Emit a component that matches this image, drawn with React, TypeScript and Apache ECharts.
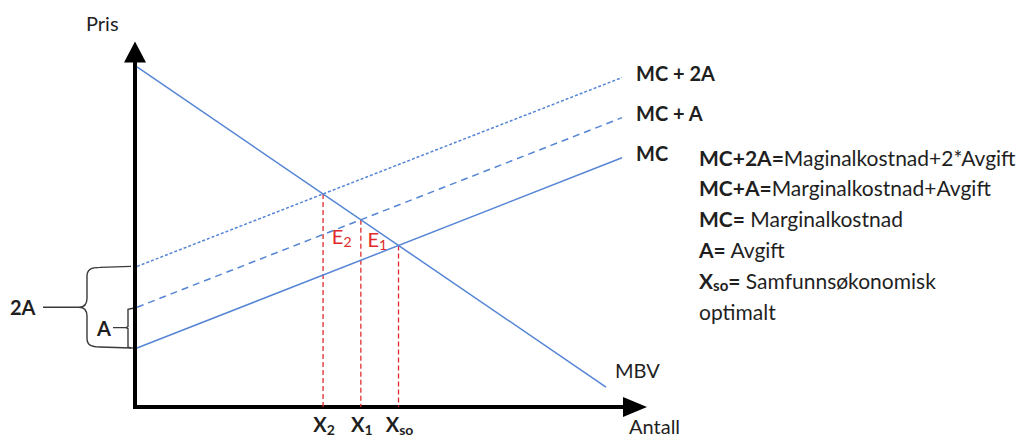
import React, { useEffect, useRef } from 'react';
import * as echarts from 'echarts';

const FONT = 'Lato, "Noto Sans", sans-serif';
const BLUE = '#5585D5';
const RED = '#E0282A';
const INK = '#1f1f1f';

// Data space: Antall 0..100 (x), Pris 0..100 (y)
const axisMin = 0;
const axisMax = 100;
const mbvX = [0.4, 94.2];
const mbvY = [95.8, 5.6];
const mcX = [0.4, 97.4];
const mcY = [16.6, 70.2];
const mcAY = [28.1, 81.5];
const mc2AY = [39.6, 92.8];

const curveNames = ['MC + 2A', 'MC + A', 'MC'];
const demandName = 'MBV';
const axisNames = ['Antall', 'Pris'];
const quantitySubs = ['2', '1', 'so']; // X2 (MC+2A), X1 (MC+A), Xso (MC)
const equilibriumSubs = ['2', '1'];
const braceLabels = ['2A', 'A'];
const legendLines = [
  '{lb|MC+2A=}{lr|Maginalkostnad+2*Avgift}',
  '{lb|MC+A=}{lr|Marginalkostnad+Avgift}',
  '{lb|MC=}{lr| Marginalkostnad}',
  '{lb|A=}{lr| Avgift}',
  '{lb|X}{ls|so}{lb|=}{lr| Samfunnsøkonomisk}',
  '{lr|optimalt}',
];

function intersect(p1: number[], p2: number[], q1: number[], q2: number[]) {
  const [x1, y1] = p1, [x2, y2] = p2, [x3, y3] = q1, [x4, y4] = q2;
  const d = (x1 - x2) * (y3 - y4) - (y1 - y2) * (x3 - x4);
  const t = ((x1 - x3) * (y3 - y4) - (y1 - y3) * (x3 - x4)) / d;
  return [x1 + t * (x2 - x1), y1 + t * (y2 - y1)];
}

const rich = {
  b: { fontFamily: FONT, fontSize: 20, fontWeight: 'bold', fill: INK, lineHeight: 24 },
  r: { fontFamily: FONT, fontSize: 20, fill: INK, lineHeight: 24 },
  bs: { fontFamily: FONT, fontSize: 14, fontWeight: 'bold', fill: INK, padding: [10, 0, 0, 0] },
  e: { fontFamily: FONT, fontSize: 20, fill: RED, lineHeight: 24 },
  es: { fontFamily: FONT, fontSize: 14, fill: RED, padding: [10, 0, 0, 0] },
  lb: { fontFamily: FONT, fontSize: 21, fontWeight: 'bold', fill: INK, lineHeight: 25 },
  lr: { fontFamily: FONT, fontSize: 21, fill: INK, lineHeight: 25 },
  ls: { fontFamily: FONT, fontSize: 15, fontWeight: 'bold', fill: INK, padding: [10, 0, 0, 0] },
};

function text(x: number, y: number, t: string, align = 'left', font?: string, fill = INK) {
  return {
    type: 'text',
    x,
    y,
    silent: true,
    z: 20,
    style: {
      text: t,
      font: font || `20px ${FONT}`,
      fill,
      align,
      verticalAlign: 'middle',
      textAlign: align,
      textVerticalAlign: 'middle',
      rich,
    },
  };
}

export default function App() {
  const ref = useRef<HTMLDivElement>(null);

  useEffect(() => {
    const el = ref.current!;
    const chart = echarts.init(el, undefined, { renderer: 'svg' });
    const pts = (xs: number[], ys: number[]) => xs.map((x, i) => [x, ys[i]]);
    const mbv = pts(mbvX, mbvY);
    const supplyLines = [pts(mcX, mc2AY), pts(mcX, mcAY), pts(mcX, mcY)];
    const dashes: any[] = [[3, 2], [7, 5], 'solid'];

    const series: any[] = [
      {
        type: 'line', name: demandName, data: mbv, symbol: 'none', silent: true,
        lineStyle: { color: BLUE, width: 1.5 }, z: 3,
      },
      ...supplyLines.map((d, i) => ({
        type: 'line', name: curveNames[i], data: d, symbol: 'none', silent: true,
        lineStyle: { color: BLUE, width: 1.5, type: dashes[i] }, z: 3,
      })),
    ];
    const crossings = supplyLines.map((s) => intersect(mbv[0], mbv[1], s[0], s[1]));
    crossings.forEach((c, i) => {
      series.push({
        type: 'line', name: 'X' + quantitySubs[i], data: [c, [c[0], 0]], symbol: 'none', silent: true,
        lineStyle: { color: RED, width: 1.3, type: [5, 3] }, z: 2,
      });
    });

    const axisLine = (size: number[]) => ({
      show: true,
      onZero: true,
      symbol: ['none', 'triangle'],
      symbolSize: size,
      lineStyle: { color: '#000', width: 4, cap: 'square' },
    });

    chart.setOption({
      animation: false,
      grid: { left: 135, top: 52, width: 500, height: 355, containLabel: false, outerBoundsMode: 'none' },
      xAxis: {
        type: 'value', min: axisMin, max: axisMax,
        axisLine: axisLine([20, 24]), axisTick: { show: false }, axisLabel: { show: false }, splitLine: { show: false },
      },
      yAxis: {
        type: 'value', min: axisMin, max: axisMax,
        axisLine: axisLine([22, 21]), axisTick: { show: false }, axisLabel: { show: false }, splitLine: { show: false },
      },
      series,
    });

    const toPx = (p: number[]) => chart.convertToPixel({ gridIndex: 0 }, p) as number[];
    const cPx = crossings.map(toPx);
    const y2A = toPx([0, mc2AY[0]])[1];
    const yA = toPx([0, mcAY[0]])[1];
    const y0 = toPx([0, mcY[0]])[1];
    const origin = toPx([0, 0]);
    const ends = supplyLines.map((s) => toPx(s[1]));
    const mbvEnd = toPx(mbv[1]);

    // Brace paths
    const xR = 131, xL = 87, tip = 79, ym = (y2A + y0) / 2;
    const d1 = [
      `M${xR},${y2A} L${xL + 13},${y2A + 1}`,
      `C${xL + 4},${y2A + 1} ${xL},${y2A + 3} ${xL},${y2A + 10}`,
      `L${xL},${ym - 9}`,
      `C${xL},${ym - 3} ${xL - 3},${ym} ${tip},${ym}`,
      `C${xL - 3},${ym} ${xL},${ym + 3} ${xL},${ym + 9}`,
      `L${xL},${y0 - 10}`,
      `C${xL},${y0 - 3} ${xL + 4},${y0 - 1} ${xL + 13},${y0 - 1}`,
      `L${xR},${y0}`,
      `M43,${ym} L${tip},${ym}`,
    ].join(' ');
    const ya = (yA + y0) / 2;
    const d2 = [
      `M133,${yA + 1} L128,${yA + 2} L128,${ya - 1} L126,${ya} L128,${ya + 1} L128,${y0 - 1} L133,${y0}`,
      `M113,${ya} L126,${ya}`,
    ].join(' ');
    echarts.graphic.registerShape('brace2A', echarts.graphic.extendPath(d1, {}) as any);
    echarts.graphic.registerShape('braceA', echarts.graphic.extendPath(d2, {}) as any);

    const graphic: any[] = [
      { type: 'brace2A', x: 0, y: 0, silent: true, style: { fill: 'none', stroke: '#3a3a3a', lineWidth: 1.4 } },
      { type: 'braceA', x: 0, y: 0, silent: true, style: { fill: 'none', stroke: '#3a3a3a', lineWidth: 1.4 } },
      text(10, ym, `{b|${braceLabels[0]}}`),
      text(97, ya, `{b|${braceLabels[1]}}`),
      text(origin[0] - 49, 23, axisNames[1]),
      text(629, 426, axisNames[0]),
      text(mbvEnd[0] + 9, mbvEnd[1] - 17, demandName),
      ...curveNames.map((n, i) => text(ends[i][0] + 14, ends[i][1] - 5, `{b|${n}}`)),
      ...cPx.map((c, i) => text(c[0] + 1, 424, `{b|X}{bs|${quantitySubs[i]}}`, 'center')),
      text(cPx[1][0] - 29, 236, `{e|E}{es|${equilibriumSubs[0]}}`),
      text(cPx[2][0] - 31, 239, `{e|E}{es|${equilibriumSubs[1]}}`),
      ...legendLines.map((l, i) => text(699, 157 + i * 30.8, l)),
    ];
    chart.setOption({ graphic });

    return () => chart.dispose();
  }, []);

  return (
    <div
      ref={ref}
      style={{ position: 'fixed', left: 0, top: 0, width: 1026, height: 439, background: '#fff' }}
    />
  );
}
